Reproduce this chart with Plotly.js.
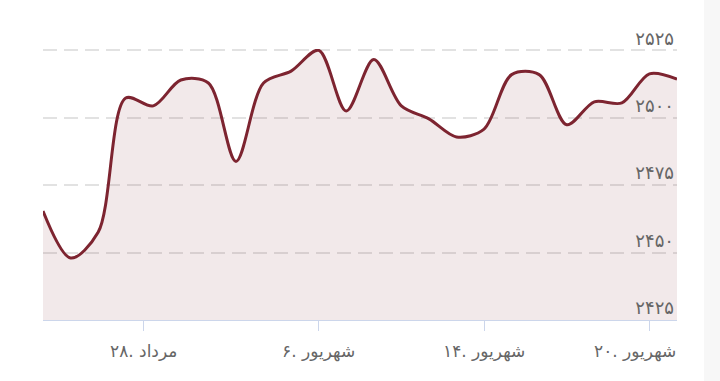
<!DOCTYPE html>
<html>
<head>
<meta charset="utf-8">
<script src="https://cdn.plot.ly/plotly-3.0.1.min.js"></script>
<style>
html,body{margin:0;padding:0;background:#fff;}
#chart{width:720px;height:381px;}
</style>
</head>
<body>
<div id="chart"></div>
<script>
// point index (trading days) and closing values
const pointIndex = [0,1,2,3,4,5,6,7,8,9,10,11,12,13,14,15,16,17,18,19,20,21,22,23];
const prices = [2465.4, 2448, 2457.5, 2507.3, 2504.4, 2514, 2512.9, 2483.8, 2512.9, 2517.3, 2525,
                2502.5, 2521.6, 2504.4, 2499.6, 2492.9, 2495.8, 2516, 2516, 2497.4, 2505.9,
                2505.5, 2516.3, 2514.3];
const xTickVals = [3.63, 10, 16, 22];
const xTickText = ['\u200E۲۸.\u200E مرداد', '\u200E۶.\u200E شهریور', '\u200E۱۴.\u200E شهریور', '\u200E۲۰.\u200E شهریور'];
const yTickVals = [2425, 2450, 2475, 2500, 2525];
const yTickText = ['۲۴۲۵', '۲۴۵۰', '۲۴۷۵', '۲۵۰۰', '۲۵۲۵'];

const fontFam = 'DejaVu Sans, sans-serif';

const trace = {
  x: pointIndex,
  y: prices,
  type: 'scatter',
  mode: 'lines',
  line: {color: '#7d2430', width: 3, shape: 'spline', smoothing: 0.9},
  fill: 'tozeroy',
  fillcolor: 'rgba(125,36,48,0.10)',
  hoverinfo: 'skip'
};

const annotations = xTickVals.map((v, i) => ({
  x: v, xref: 'x', y: 0, yref: 'paper',
  text: xTickText[i], showarrow: false,
  xanchor: i === xTickVals.length - 1 ? 'right' : 'center',
  xshift: i === xTickVals.length - 1 ? 29 : 0,
  yanchor: 'middle', yshift: -31,
  font: {family: fontFam, size: 17, color: '#666666'}
}));

const layout = {
  width: 720, height: 381,
  margin: {l: 43, r: 43, t: 49, b: 61},
  paper_bgcolor: '#ffffff',
  plot_bgcolor: '#ffffff',
  showlegend: false,
  xaxis: {
    range: [0, 23],
    tickvals: xTickVals,
    ticktext: xTickText,
    showticklabels: false,
    ticks: 'outside', ticklen: 10, tickcolor: '#ccd6eb', tickwidth: 1,
    showgrid: false, zeroline: false,
    showline: true, linecolor: '#ccd6eb', linewidth: 1
  },
  yaxis: {
    range: [2425, 2525.5],
    side: 'right',
    tickvals: yTickVals,
    ticktext: yTickText,
    ticklabelposition: 'inside',
    ticklabeloverflow: 'allow',
    ticklabelshift: -12,
    ticks: '',
    showgrid: true, gridcolor: '#e2e2e2', gridwidth: 2, griddash: '14px,7px',
    zeroline: false, showline: false,
    tickfont: {family: fontFam, size: 18, color: '#666666'}
  },
  shapes: [{
    type: 'rect', xref: 'paper', yref: 'paper',
    x0: (704 - 43) / 634, x1: (720 - 43) / 634, y0: -1, y1: 2,
    fillcolor: '#f7f7f7', line: {width: 0}, layer: 'below'
  }],
  annotations: annotations
};

Plotly.newPlot('chart', [trace], layout, {displayModeBar: false, staticPlot: true});
</script>
</body>
</html>
